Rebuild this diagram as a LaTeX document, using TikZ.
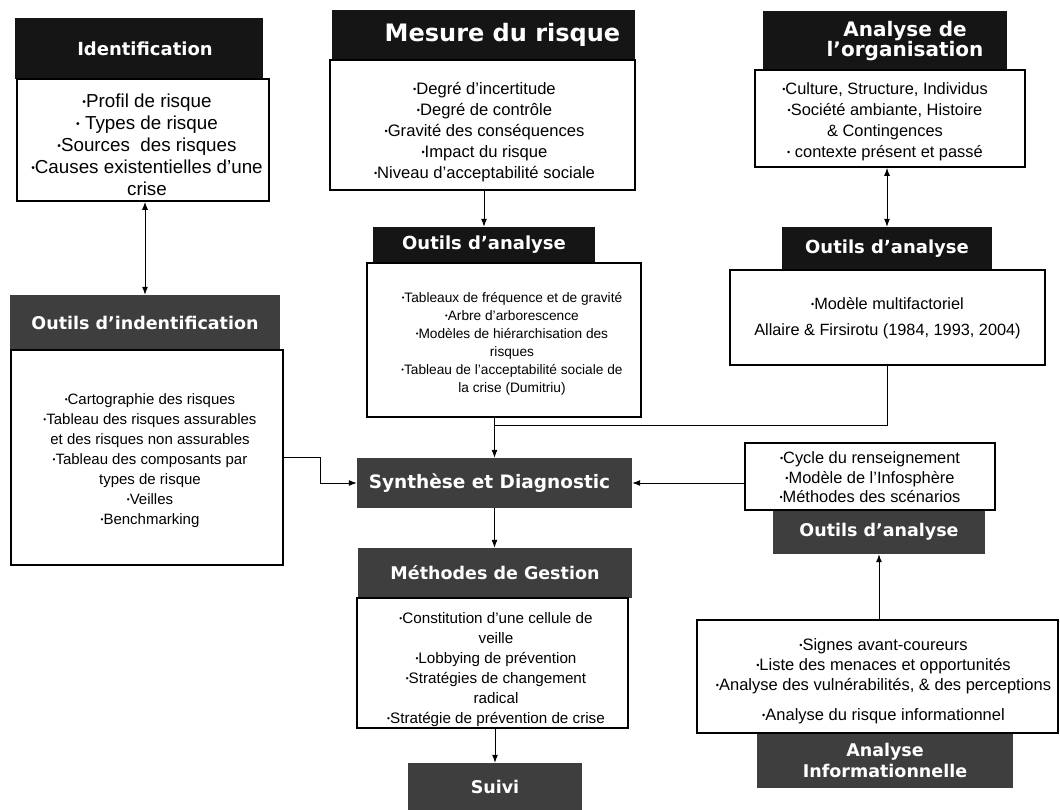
\documentclass[tikz,border=0pt]{standalone}
\usepackage{fontspec}
\setmainfont{Liberation Sans}
\newfontfamily\hdrfont{DejaVu Sans}
\usetikzlibrary{arrows.meta}
\definecolor{hdark}{HTML}{151515}
\definecolor{hgray}{HTML}{3E3E3E}
\newcommand\bl{\raisebox{0.12em}{\scalebox{0.55}{•}}}
\newcommand\fs[2]{\fontsize{#1}{#2}\selectfont}
% #1 = downward shift, #2 = extra left space (shifts text right by half of it)
\newcommand\tb[3]{\hspace*{#2}\raisebox{-#1}[\height][\depth]{\begin{tabular}{@{}c@{}}#3\end{tabular}}}
\tikzset{
  hdrbase/.style={text=white, align=center, inner sep=0pt, font=\hdrfont\bfseries\fs{17.5}{21}},
  hdrdark/.style={hdrbase, fill=hdark},
  hdrgray/.style={hdrbase, fill=hgray},
  txtbox/.style={draw=black, line width=1.6pt, fill=white, inner sep=0pt},
  arr/.style={line width=1pt, -{Latex[length=8pt,width=6pt]}},
  dbl/.style={line width=1pt, {Latex[length=8pt,width=6pt]}-{Latex[length=8pt,width=6pt]}},
  link/.style={line width=1pt}
}
\begin{document}
\begin{tikzpicture}[x=1pt,y=-1pt]
\useasboundingbox[fill=white] (0,0) rectangle (1060,810);

% ---- Identification
\node[hdrdark, minimum width=248pt, minimum height=61pt, font=\hdrfont\bfseries\fs{18}{21}] (idh) at (139,49) {\hspace*{12pt}Identification};
\node[txtbox, minimum width=252pt, minimum height=122pt, font=\fs{18.8}{22}] (idb) at (143,140)
  {\tb{7pt}{8pt}{\bl Profil de risque\\ \bl{} Types de risque\\ \bl Sources\ \ des risques\\ \bl Causes existentielles d’une\\ crise}};

% ---- Mesure du risque
\node[hdrdark, minimum width=303pt, minimum height=50pt, font=\hdrfont\bfseries\fs{24}{26}] (mh) at (483.5,35) {\hspace*{38pt}Mesure du risque};
\node[txtbox, minimum width=305pt, minimum height=130pt, font=\fs{16.6}{21}] (mb) at (482.5,125)
  {\tb{7pt}{4pt}{\bl Degré d’incertitude\\ \bl Degré de contrôle\\ \bl Gravité des conséquences\\ \bl Impact du risque\\ \bl Niveau d’acceptabilité sociale}};

% ---- Analyse de l'organisation
\node[hdrdark, minimum width=244pt, minimum height=60pt, font=\hdrfont\bfseries\fs{20}{19}] (oh) at (885,41) {\hspace*{40pt}Analyse de\\ \hspace*{40pt}l’organisation};
\node[txtbox, minimum width=270pt, minimum height=97pt, font=\fs{16.4}{21}] (ob) at (890,118.5)
  {\tb{3pt}{0pt}{\bl Culture, Structure, Individus\\ \bl Société ambiante, Histoire\\ \& Contingences\\ \bl{} contexte présent et passé}\hspace*{10pt}};

% ---- Outils d'indentification
\node[hdrgray, minimum width=270pt, minimum height=55pt] (oih) at (145,322.5) {Outils d’indentification};
\node[txtbox, minimum width=272pt, minimum height=215pt, font=\fs{15}{20}] (oib) at (147,457.5)
  {\tb{3pt}{6pt}{\bl Cartographie des risques\\ \bl Tableau des risques assurables\\ et des risques non assurables\\ \bl Tableau des composants par\\ types de risque\\ \bl Veilles\\ \bl Benchmarking}};

% ---- Outils d'analyse (middle)
\node[hdrdark, minimum width=222pt, minimum height=36pt, font=\hdrfont\bfseries\fs{18}{21}] (ah) at (484,245) {Outils d’analyse};
\node[txtbox, minimum width=274pt, minimum height=154pt, font=\fs{13.7}{18}] (ab) at (504,340)
  {\tb{4pt}{16pt}{\bl Tableaux de fréquence et de gravité\\ \bl Arbre d’arborescence\\ \bl Modèles de hiérarchisation des\\ risques\\ \bl Tableau de l’acceptabilité sociale de\\ la crise (Dumitriu)}};

% ---- Outils d'analyse (right)
\node[hdrdark, minimum width=210pt, minimum height=43pt, font=\hdrfont\bfseries\fs{18}{21}] (rh) at (887,248.5) {Outils d’analyse};
\node[txtbox, minimum width=315pt, minimum height=95pt, font=\fs{16.3}{26}] (rb) at (887.5,317.5)
  {\tb{0pt}{0pt}{\bl Modèle multifactoriel\\ Allaire \& Firsirotu (1984, 1993, 2004)}};

% ---- Synthèse, Méthodes, Suivi
\node[hdrgray, minimum width=275pt, minimum height=50pt, font=\hdrfont\bfseries\fs{18.5}{21}] (sd) at (494.5,483) {Synthèse et Diagnostic\hspace*{10pt}};
\node[hdrgray, minimum width=274pt, minimum height=50pt] (gh) at (495,573) {Méthodes de Gestion};
\node[txtbox, minimum width=271pt, minimum height=130pt, font=\fs{15.2}{20}] (gb) at (492.5,663)
  {\tb{6pt}{7pt}{\bl Constitution d’une cellule de\\ veille\\ \bl Lobbying de prévention\\ \bl Stratégies de changement\\ radical\\ \bl Stratégie de prévention de crise}};
\node[hdrgray, minimum width=174pt, minimum height=47pt] (sv) at (495,786.5) {Suivi};

% ---- Right bottom column
\node[hdrgray, minimum width=212pt, minimum height=44pt] (bh) at (879,532) {Outils d’analyse};
\node[txtbox, minimum width=250pt, minimum height=67pt, font=\fs{16.4}{19.5}] (cb) at (870,476.5)
  {\tb{3pt}{0pt}{\bl Cycle du renseignement\\ \bl Modèle de l’Infosphère\\ \bl Méthodes des scénarios}};
\node[hdrgray, minimum width=256pt, minimum height=55pt, font=\hdrfont\bfseries\fs{17.5}{21}] (aih) at (885,760.5) {Analyse\\ Informationnelle};
\node[txtbox, minimum width=361pt, minimum height=113pt, font=\fs{16.5}{20}] (sb) at (877.5,676.5)
  {\tb{5pt}{12pt}{\bl Signes avant-coureurs\\ \bl Liste des menaces et opportunités\\ \bl Analyse des vulnérabilités, \& des perceptions\\[10pt] \bl Analyse du risque informationnel}};

% ---- Connectors
\draw[dbl] (oih.north |- idb.south) -- (oih.north);
\draw[arr] (ah.north |- mb.south) -- (ah.north);
\draw[dbl] (rh.north |- ob.south) -- (rh.north);
\draw[arr] (oib.east) -- ++(37,0) |- (sd.west);
\draw[arr] (sd.north |- ab.south) -- (sd.north);
\coordinate (jy) at (0,425);
\coordinate (j) at (sd.north |- jy);
\draw[link] (rb.south) |- (j);
\draw[arr] (sd.south) -- (sd.south |- gh.north);
\draw[arr] (gb.south -| sv.north) -- (sv.north);
\draw[arr] (cb.west |- sd.east) -- (sd.east);
\draw[arr] (sb.north -| bh.south) -- (bh.south);
\end{tikzpicture}
\end{document}
